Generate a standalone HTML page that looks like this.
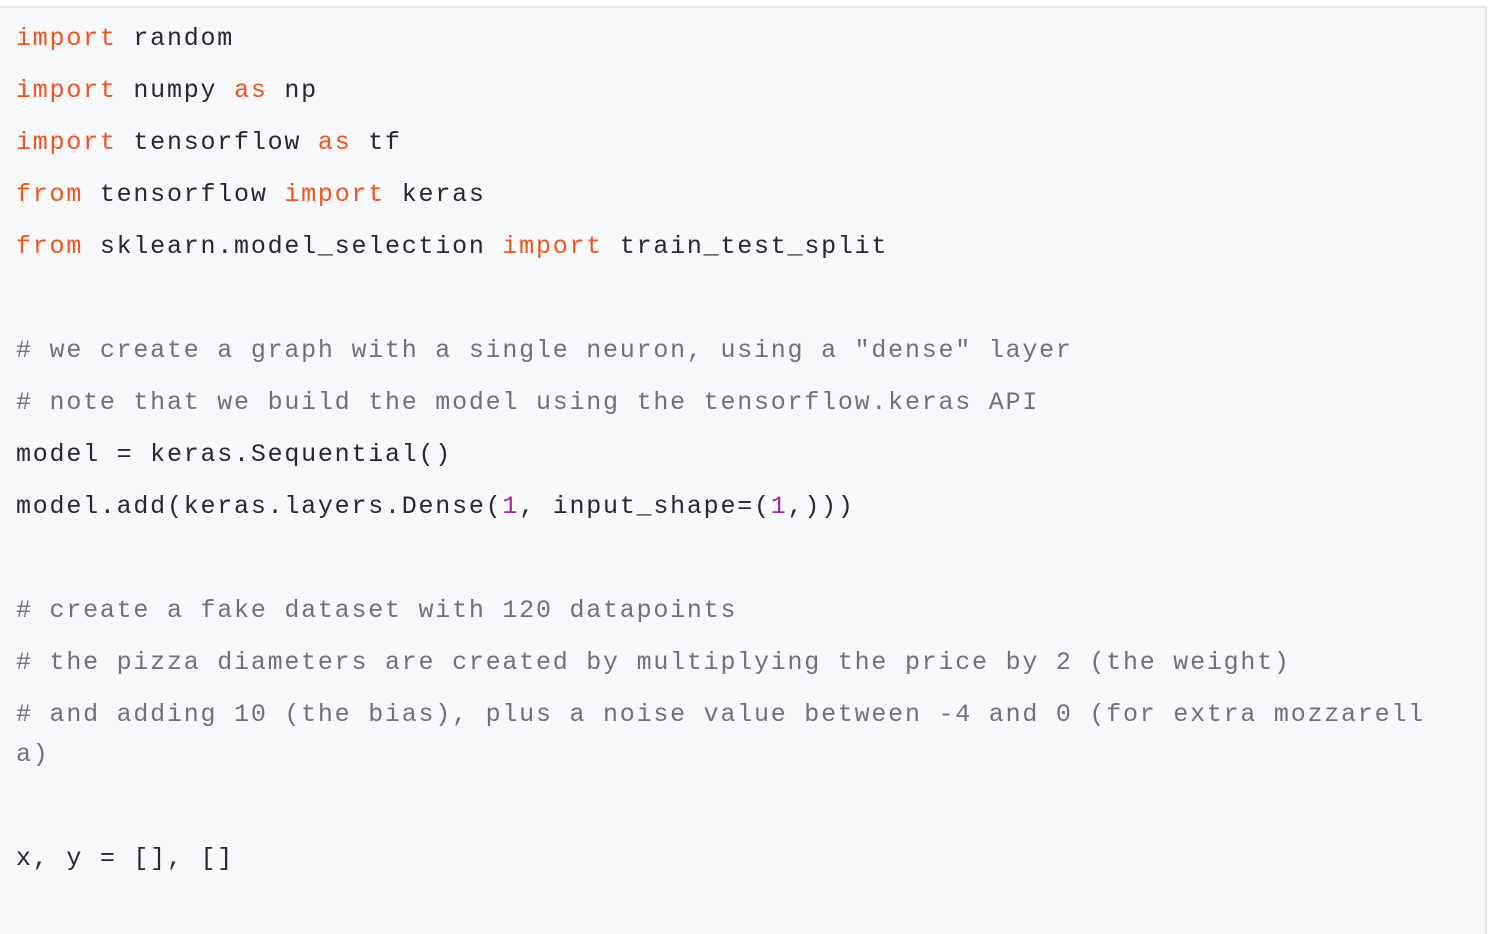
<!DOCTYPE html>
<html><head><style>
html,body{margin:0;padding:0;background:#fff;width:1488px;height:934px;overflow:hidden;position:relative}
.box{position:absolute;left:0;top:6px;width:1485px;height:928px;background:#f6f8fa;border-top:2px solid #e6e8eb;border-right:2px solid #e6e8eb}
.code{position:absolute;left:16px;top:19px;width:1440px;font-family:"Liberation Mono",monospace;font-size:25px;letter-spacing:1.77px;color:#24292e}
.l{line-height:40px;margin-bottom:12px;min-height:40px;white-space:pre-wrap;word-break:break-all}
.k{color:#f4511e}.c{color:#6a737d}.n{color:#a626a4}
</style></head><body>
<div class="box"></div>
<div class="code"><div class="l"><span class="k">import</span> random</div><div class="l"><span class="k">import</span> numpy <span class="k">as</span> np</div><div class="l"><span class="k">import</span> tensorflow <span class="k">as</span> tf</div><div class="l"><span class="k">from</span> tensorflow <span class="k">import</span> keras</div><div class="l"><span class="k">from</span> sklearn.model_selection <span class="k">import</span> train_test_split</div><div class="l"></div><div class="l c"># we create a graph with a single neuron, using a "dense" layer</div><div class="l c"># note that we build the model using the tensorflow.keras API</div><div class="l">model = keras.Sequential()</div><div class="l">model.add(keras.layers.Dense(<span class="n">1</span>, input_shape=(<span class="n">1</span>,)))</div><div class="l"></div><div class="l c"># create a fake dataset with 120 datapoints</div><div class="l c"># the pizza diameters are created by multiplying the price by 2 (the weight)</div><div class="l c"># and adding 10 (the bias), plus a noise value between -4 and 0 (for extra mozzarell<br>a)</div><div class="l"></div><div class="l">x, y = [], []</div></div>
</body></html>
